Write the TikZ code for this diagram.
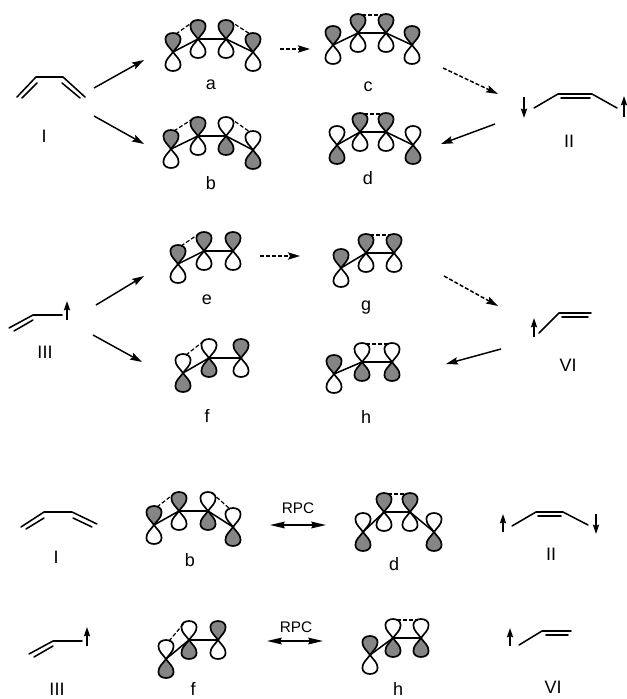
\documentclass[tikz,border=0pt]{standalone}
\usepackage{fontspec}
\setmainfont{Liberation Sans}
\usetikzlibrary{arrows.meta}
\definecolor{lobegray}{HTML}{858585}
\tikzset{
  x=0.75pt,y=-0.75pt,
  lobe/.style={line width=1.25pt,draw=black,line join=round},
  bond/.style={line width=1.15pt,line join=round,line cap=round},
  overlap/.style={line width=0.9pt,dash pattern=on 3pt off 1.6pt},
  react/.style={line width=1.1pt,-{Stealth[length=9pt,width=5.5pt,inset=1.5pt]}},
  reactdash/.style={line width=1.1pt,dash pattern=on 3pt off 1.5pt,-{Stealth[length=9pt,width=5.5pt,inset=1.5pt]}},
  spin/.style={line width=1.1pt,-{Stealth[length=7pt,width=4.6pt,inset=1pt]}},
  both/.style={line width=1.1pt,{Stealth[length=11pt,width=5pt,inset=1pt]}-{Stealth[length=11pt,width=5pt,inset=1pt]}},
  lab/.style={inner sep=0pt,font=\fontsize{13.5}{15}\selectfont},
  rpclab/.style={inner sep=0pt,font=\fontsize{11.5}{13}\selectfont},
}
\newcommand{\lobeshape}[1]{(0,0) .. controls (-3,#1*4.5) and (-7.7,#1*7.5) .. (-7.6,#1*13) .. controls (-7.5,#1*21) and (7.5,#1*21) .. (7.6,#1*13) .. controls (7.7,#1*7.5) and (3,#1*4.5) .. (0,0)}
% #1 name, #2 x, #3 y: filled upper lobe
\newcommand{\orbT}[3]{%
  \coordinate (#1) at (#2,#3);
  \coordinate (#1t) at (#2,#3-18);
  \begin{scope}[shift={(#1)}]
    \draw[lobe,fill=lobegray] \lobeshape{-1} -- cycle;
    \draw[lobe,fill=white] \lobeshape{1} -- cycle;
  \end{scope}}
% filled lower lobe
\newcommand{\orbB}[3]{%
  \coordinate (#1) at (#2,#3);
  \coordinate (#1t) at (#2,#3-18);
  \begin{scope}[shift={(#1)}]
    \draw[lobe,fill=white] \lobeshape{-1} -- cycle;
    \draw[lobe,fill=lobegray] \lobeshape{1} -- cycle;
  \end{scope}}
\newcommand{\dashL}[2]{\draw[overlap] ([shift={(3,0)}]#1t) -- ([shift={(-4,0)}]#2t);}
\newcommand{\dashR}[2]{\draw[overlap] ([shift={(4,0)}]#1t) -- ([shift={(-3,0)}]#2t);}
\begin{document}
\begin{tikzpicture}
\useasboundingbox[fill=white] (0,0) rectangle (627,699);
% top group
\orbT{aA}{173}{52}\orbT{aB}{198}{39}\orbT{aC}{226}{39}\orbT{aD}{253}{52}
\draw[bond] (aA)--(aB)--(aC)--(aD);\dashL{aA}{aB}\dashR{aC}{aD}
\orbT{bA}{171}{149}\orbT{bB}{198}{136}\orbB{bC}{226}{136}\orbB{bD}{253}{150}
\draw[bond] (bA)--(bB)--(bC)--(bD);\dashL{bA}{bB}\dashR{bC}{bD}
\orbT{cA}{333}{45}\orbT{cB}{358}{33}\orbT{cC}{386}{33}\orbT{cD}{412}{45}
\draw[bond] (cA)--(cB)--(cC)--(cD);\dashR{cB}{cC}
\orbB{dA}{337}{145}\orbT{dB}{360}{132}\orbT{dC}{386}{132}\orbB{dD}{413}{145}
\draw[bond] (dA)--(dB)--(dC)--(dD);\dashR{dB}{dC}
\node[lab] (la) at (211,85) {a};
\node[lab] (lb) at (211,183) {b};
\node[lab] (lc) at (368,87) {c};
\node[lab] (ld) at (368,178) {d};
% butadiene I
\coordinate (iA) at (17,97);\coordinate (iB) at (36,77);\coordinate (iC) at (63,77);\coordinate (iD) at (85,97);
\draw[bond] (iA)--(iB)--(iC)--(iD);
\coordinate (iE) at (22,98);\coordinate (iF) at (37,83);\coordinate (iG) at (62,83);\coordinate (iH) at (80,98);
\draw[bond] (iE)--(iF);\draw[bond] (iG)--(iH);
\node[lab] (lI) at (44,136) {I};
% II
\coordinate (iiA) at (534,108);\coordinate (iiB) at (558,94);\coordinate (iiC) at (592,94);\coordinate (iiD) at (617,108);
\draw[bond] (iiA)--(iiB)--(iiC)--(iiD);
\coordinate (iiE) at (561,98);\coordinate (iiF) at (590,98);\draw[bond] (iiE)--(iiF);
\coordinate (sa) at (524,97);\coordinate (sb) at (524,118);\draw[spin] (sa)--(sb);
\coordinate (sc) at (624,117);\coordinate (sd) at (624,96);\draw[spin] (sc)--(sd);
\node[lab] (lII) at (569,141) {II};
% top arrows
\coordinate (p1) at (94,88);\coordinate (p2) at (144,60);\draw[react] (p1)--(p2);
\coordinate (p3) at (94,116);\coordinate (p4) at (144,144);\draw[react] (p3)--(p4);
\coordinate (p5) at (280,49);\coordinate (p6) at (310,49);\draw[reactdash] (p5)--(p6);
\coordinate (p7) at (443,68);\coordinate (p8) at (498,94);\draw[reactdash] (p7)--(p8);
\coordinate (p9) at (495,124);\coordinate (p10) at (441,144);\draw[react] (p9)--(p10);
% middle group
\orbT{eA}{178}{264}\orbT{eB}{204}{251}\orbT{eC}{233}{251}
\draw[bond] (eA)--(eB)--(eC);\dashL{eA}{eB}
\orbB{fA}{183}{373}\orbB{fB}{209}{358}\orbT{fC}{241}{358}
\draw[bond] (fA)--(fB)--(fC);\dashL{fA}{fB}
\orbT{gA}{341}{268}\orbT{gB}{366}{253}\orbT{gC}{394}{253}
\draw[bond] (gA)--(gB)--(gC);\dashR{gB}{gC}
\orbT{hA}{334}{374}\orbB{hB}{362}{362}\orbB{hC}{392}{362}
\draw[bond] (hA)--(hB)--(hC);\dashR{hB}{hC}
\node[lab] (le) at (207,300) {e};
\node[lab] (lf) at (207,416) {f};
\node[lab] (lg) at (366,308) {g};
\node[lab] (lh) at (366,417) {h};
% III
\coordinate (tA) at (9,328);\coordinate (tB) at (33,315);\coordinate (tC) at (62,315);
\draw[bond] (tA)--(tB)--(tC);
\coordinate (tE) at (14,331);\coordinate (tF) at (33,320);\draw[bond] (tE)--(tF);
\coordinate (se) at (67,320);\coordinate (sf) at (67,301);\draw[spin] (se)--(sf);
\node[lab] (lIII) at (45,352) {III};
% VI
\coordinate (vA) at (539,333);\coordinate (vB) at (559,313);\coordinate (vC) at (591,313);
\draw[bond] (vA)--(vB)--(vC);
\coordinate (vE) at (562,317);\coordinate (vF) at (588,317);\draw[bond] (vE)--(vF);
\coordinate (sg) at (534,337);\coordinate (sh) at (534,318);\draw[spin] (sg)--(sh);
\node[lab] (lVI) at (568,365) {VI};
% middle arrows
\coordinate (q1) at (96,305);\coordinate (q2) at (144,276);\draw[react] (q1)--(q2);
\coordinate (q3) at (93,335);\coordinate (q4) at (142,362);\draw[react] (q3)--(q4);
\coordinate (q5) at (260,256);\coordinate (q6) at (300,256);\draw[reactdash] (q5)--(q6);
\coordinate (q7) at (444,276);\coordinate (q8) at (498,306);\draw[reactdash] (q7)--(q8);
\coordinate (q9) at (501,349);\coordinate (q10) at (446,364);\draw[react] (q9)--(q10);
% bottom group
\orbT{xA}{154}{525}\orbT{xB}{179}{511}\orbB{xC}{208}{511}\orbB{xD}{233}{527}
\draw[bond] (xA)--(xB)--(xC)--(xD);\dashL{xA}{xB}\dashR{xC}{xD}
\orbB{yA}{363}{532}\orbT{yB}{384}{512}\orbT{yC}{410}{512}\orbB{yD}{434}{532}
\draw[bond] (yA)--(yB)--(yC)--(yD);\dashR{yB}{yC}
\node[lab] (lb2) at (190,560) {b};
\node[lab] (ld2) at (394,564) {d};
\node[rpclab] (rpcA) at (298,508) {RPC};
\coordinate (r1) at (270,525);\coordinate (r2) at (326,525);\draw[both] (r1)--(r2);
\orbB{uA}{166}{659}\orbB{uB}{189}{640}\orbT{uC}{218}{640}
\draw[bond] (uA)--(uB)--(uC);\dashL{uA}{uB}
\orbT{wA}{370}{655}\orbB{wB}{393}{638}\orbB{wC}{421}{638}
\draw[bond] (wA)--(wB)--(wC);\dashR{wB}{wC}
\node[lab] (lf2) at (193,689) {f};
\node[lab] (lh2) at (398,689) {h};
\node[rpclab] (rpcB) at (296,627) {RPC};
\coordinate (r3) at (267,641);\coordinate (r4) at (323,641);\draw[both] (r3)--(r4);
% bottom molecules
\coordinate (jA) at (21,527);\coordinate (jB) at (44,512);\coordinate (jC) at (72,512);\coordinate (jD) at (97,524);
\draw[bond] (jA)--(jB)--(jC)--(jD);
\coordinate (jE) at (26,529);\coordinate (jF) at (44,518);\coordinate (jG) at (73,518);\coordinate (jH) at (92,527);
\draw[bond] (jE)--(jF);\draw[bond] (jG)--(jH);
\node[lab] (lI2) at (56,557) {I};
\coordinate (kA) at (512,526);\coordinate (kB) at (536,512);\coordinate (kC) at (563,512);\coordinate (kD) at (588,525);
\draw[bond] (kA)--(kB)--(kC)--(kD);
\coordinate (kE) at (538,516);\coordinate (kF) at (561,516);\draw[bond] (kE)--(kF);
\coordinate (si) at (503,532);\coordinate (sj) at (503,514);\draw[spin] (si)--(sj);
\coordinate (sk) at (596,514);\coordinate (sl) at (596,534);\draw[spin] (sk)--(sl);
\node[lab] (lII2) at (551,554) {II};
\coordinate (mA) at (29,654);\coordinate (mB) at (53,641);\coordinate (mC) at (82,641);
\draw[bond] (mA)--(mB)--(mC);
\coordinate (mE) at (34,657);\coordinate (mF) at (53,646);\draw[bond] (mE)--(mF);
\coordinate (sm) at (87,646);\coordinate (sn) at (87,627);\draw[spin] (sm)--(sn);
\node[lab] (lIII2) at (57,689) {III};
\coordinate (nA) at (519,645);\coordinate (nB) at (542,631);\coordinate (nC) at (571,631);
\draw[bond] (nA)--(nB)--(nC);
\coordinate (nE) at (546,635);\coordinate (nF) at (568,635);\draw[bond] (nE)--(nF);
\coordinate (so) at (510,646);\coordinate (sp) at (510,628);\draw[spin] (so)--(sp);
\node[lab] (lVI2) at (553,687) {VI};
\end{tikzpicture}
\end{document}
